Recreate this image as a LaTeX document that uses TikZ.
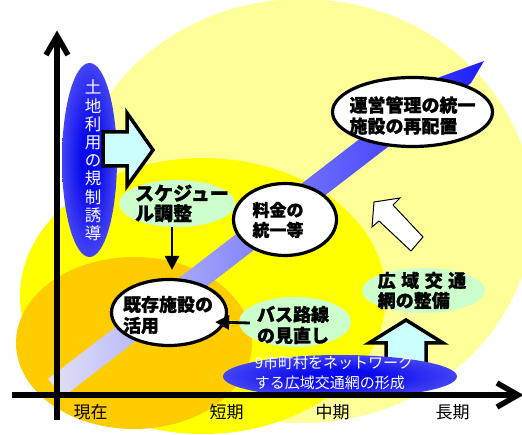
\documentclass[tikz,border=0pt]{standalone}
\usepackage{fontspec}
\newfontfamily\jp[BoldFeatures={FakeBold=1.2}]{Noto Sans CJK JP}
\usetikzlibrary{shapes.geometric,arrows.meta,calc}
\definecolor{lyel}{HTML}{FFFF99}
\definecolor{byel}{HTML}{FFFF00}
\definecolor{oran}{HTML}{FFCC00}
\definecolor{lgrn}{HTML}{CCFFCC}
\definecolor{lcyan}{HTML}{CCFFFF}
\definecolor{dblue}{HTML}{0A0AEE}
\definecolor{pblue}{HTML}{8A8AFF}
\definecolor{bandA}{HTML}{E2E2F8}
\definecolor{bandB}{HTML}{A0A0FF}
\definecolor{bandC}{HTML}{1E1EFF}
\pgfdeclareradialshading{bluglow}{\pgfpoint{0bp}{0bp}}{color(0bp)=(dblue); color(8bp)=(dblue); color(46bp)=(pblue); color(50bp)=(pblue)}
\begin{document}
\begin{tikzpicture}[x=1pt,y=-1pt,
  btext/.style={font=\jp\bfseries\fontsize{18}{21}\selectfont, align=left, inner sep=0pt},
  wtext/.style={font=\jp\fontsize{15}{20}\selectfont, text=white, align=left, inner sep=0pt},
  axlabel/.style={font=\jp\fontsize{17}{20}\selectfont, inner sep=0pt},
  wbub/.style={ellipse, draw=black, line width=3.2pt, fill=white, inner sep=0pt},
  gbub/.style={ellipse, fill=lgrn, inner sep=0pt},
  glow/.style={ellipse, shading=bluglow, inner sep=0pt},
  blockarrow/.style={fill=lcyan, draw=black, line width=3.5pt, line join=miter},
  conn/.style={line width=2.8pt, -{Triangle[length=14pt,width=14pt]}},
  axis/.style={line width=5.5pt, line join=miter}]
\useasboundingbox (0,0) rectangle (522,435);
% background ellipses
\fill[lyel] (302,211) ellipse [x radius=231pt, y radius=212pt];
\fill[byel] (203,296) ellipse [x radius=183pt, y radius=138pt];
\fill[oran] (134,343) ellipse [x radius=118pt, y radius=86pt];
% diagonal band
\shade[left color=bandA, middle color=bandB, right color=bandC]
  (48,379) -- (440,77) -- (484,61) -- (471,83) -- (63,397) -- cycle;
% land use ellipse
\node[glow, minimum width=55pt, minimum height=194pt] (landuse) at (89.5,160) {};
\node[font=\jp\fontsize{16.5}{18.2}\selectfont, text=white, align=center, inner sep=0pt] (landuset) at (93,160.5)
  {土\\地\\利\\用\\の\\規\\制\\誘\\導};
% right block arrow
\draw[blockarrow] (103,132) -- (127,132) -- (127,113) -- (153,150) -- (127,186) -- (127,166) -- (103,166) -- cycle;
% up block arrow
\draw[blockarrow] (386,366) -- (386,343) -- (369,343) -- (406,320) -- (443,343) -- (426,343) -- (426,366);
% network ellipse
\node[glow, minimum width=234pt, minimum height=43pt] (net) at (340,376.5) {};
\node[wtext] (nett) at (334,373) {9市町村をネットワーク\\する広域交通網の形成};
% white hollow arrow
\draw[fill=white, draw=black, line width=1pt, line join=miter]
  (374,202) -- (400,198) -- (393,205) -- (423,237) -- (411,251) -- (379,221) -- (372,227) -- cycle;
% bubbles
\node[wbub, minimum width=160pt, minimum height=69pt] (mgmt) at (412.5,112) {};
\node[btext] (mgmtt) at (412.5,115.5) {運営管理の統一\\施設の再配置};
\node[wbub, minimum width=103pt, minimum height=72pt] (fee) at (285,219.5) {};
\node[btext, font=\jp\bfseries\fontsize{17}{20}\selectfont] (feet) at (278,220) {料金の\\統一等};
\node[wbub, minimum width=115pt, minimum height=66pt] (exist) at (169,312.5) {};
\node[btext] (existt) at (168,315) {既存施設の\\活用};
\node[gbub, minimum width=116pt, minimum height=47pt] (sched) at (177,203.5) {};
\node[btext, font=\jp\bfseries\fontsize{19}{20}\selectfont] (schedt) at (182,203.5) {スケジュー\\ル調整};
\node[gbub, minimum width=112pt, minimum height=50pt] (bus) at (295,322) {};
\node[btext] (bust) at (293,325) {バス路線\\の見直し};
\node[gbub, minimum width=123pt, minimum height=45pt] (wide) at (423.5,290.5) {};
\node[btext, font=\jp\bfseries\fontsize{18}{20}\selectfont] (widet) at (422,290.5) {広\hspace{5.5pt}域\hspace{5.5pt}交\hspace{5.5pt}通\\網の整備};
% connectors
\coordinate (s1) at ($(sched.south)+(-5,0)$);
\draw[conn, shorten >=8pt] (s1) -- (s1 |- exist.north);
\coordinate (b1) at ($(bus.west)+(11,1)$);
\coordinate (e1) at ($(exist.east)+(-13,9.5)$);
\draw[conn] (b1) -- (e1);
% axes
\coordinate (yb) at (57,420);
\coordinate (yt) at (57,36);
\coordinate (xl) at (12,395);
\coordinate (xr) at (518,395);
\draw[axis] (yb) -- (yt);
\draw[axis] ($(yt)+(-11,19)$) -- (yt) -- ($(yt)+(11,19)$);
\draw[axis] (xl) -- (xr);
\draw[axis] ($(xr)+(-21,-12)$) -- (xr) -- ($(xr)+(-21,12)$);
\node[axlabel] (now) at (90.5,412.5) {現在};
\node[axlabel] (short) at (226.5,412.5) {短期};
\node[axlabel] (mid) at (332.5,412.5) {中期};
\node[axlabel] (long) at (452.5,412.5) {長期};
\end{tikzpicture}
\end{document}
